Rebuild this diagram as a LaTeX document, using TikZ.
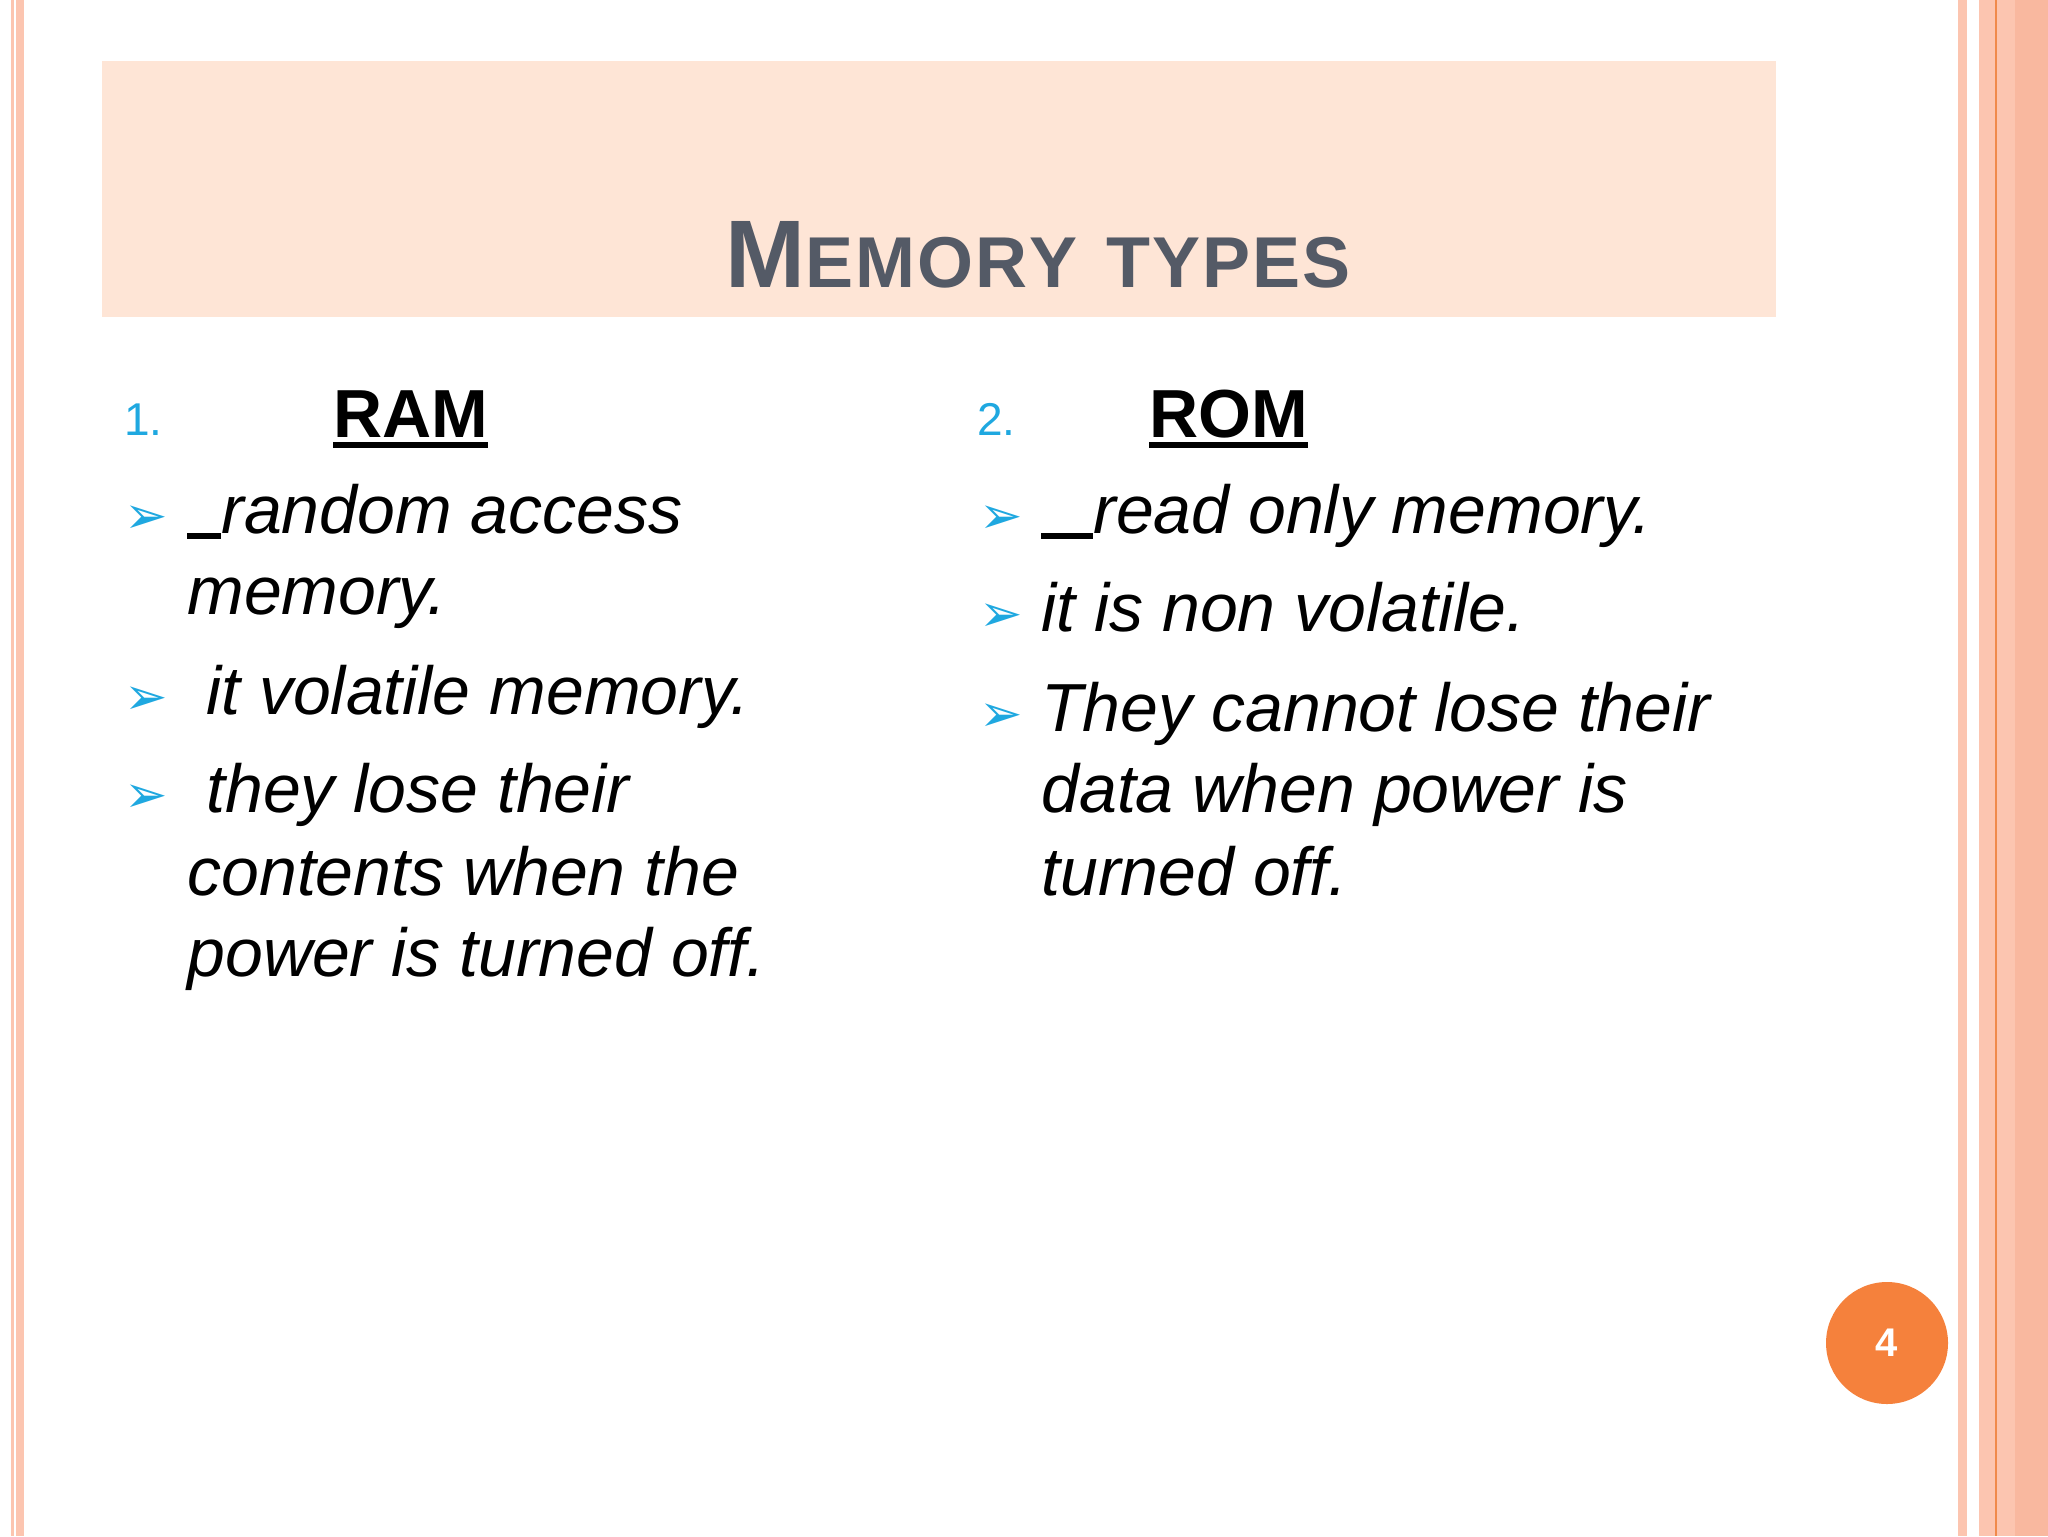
\documentclass[tikz,border=0pt]{standalone}
\usepackage{fontspec}
\setmainfont{Liberation Sans}
\newfontfamily\dejavu{DejaVu Sans}
\definecolor{hdr}{HTML}{FEE5D6}
\definecolor{salmon}{HTML}{FCC5B0}
\definecolor{salmonD}{HTML}{F9B89F}
\definecolor{orangeL}{HTML}{F08A4B}
\definecolor{titlec}{HTML}{545A66}
\definecolor{cyanc}{HTML}{1FA8E0}
\definecolor{pgc}{HTML}{F5813C}
\newcommand\myul[1]{\setbox0\hbox{#1}\rlap{\rule[-5.5pt]{\wd0}{2.8pt}}\box0}
\newcommand\myus[1]{\rule[-3pt]{#1}{2.8pt}}
\tikzset{
 body/.style={anchor=base west,inner sep=0pt,font=\fontsize{34}{40}\selectfont\itshape,text=black},
 num/.style={anchor=base west,inner sep=0pt,font=\fontsize{23}{28}\selectfont,text=cyanc},
 head/.style={anchor=base west,inner sep=0pt,font=\fontsize{34}{40}\selectfont\bfseries,text=black},
 bul/.style={anchor=base west,inner sep=0pt,font=\dejavu\fontsize{26}{30}\selectfont,text=cyanc},
}
\begin{document}
\begin{tikzpicture}[x=0.5pt,y=-0.5pt]
\useasboundingbox (0,0) rectangle (2048,1536);
\fill[white] (0,0) rectangle (2048,1536);
% borders
\fill[salmon] (11,0) rectangle (14,1536);
\fill[salmon] (16,0) rectangle (24,1536);
\fill[salmon] (1958,0) rectangle (1967,1536);
\fill[salmon] (1979,0) rectangle (2048,1536);
\fill[salmonD] (2015,0) rectangle (2048,1536);
\fill[orangeL] (1995,0) rectangle (1997,1536);
% header
\fill[hdr] (102,61) rectangle (1776,317);
\node[anchor=base,inner sep=0pt,text=titlec,font=\bfseries] (title) at (1038,287)
 {\fontsize{48}{52}\selectfont M\fontsize{36}{40}\selectfont E\kern1pt M\kern1pt O\kern1pt R\kern1pt Y\hspace{0.4em}T\kern1pt Y\kern1pt P\kern1pt E\kern1pt S};
% left column
\node[num] (n1) at (124,435) {1.};
\node[head] (ram) at (333,437) {\myul{RAM}};
\node[bul] (b1) at (124,533) {➢};
\node[body] (l1) at (187,533) {\myus{17pt}random access};
\node[body] (l1b) at (187,614) {memory.};
\node[bul] (b2) at (124,714) {➢};
\node[body] (l2) at (187,714) {\ it volatile memory.};
\node[bul] (b3) at (124,812) {➢};
\node[body] (l3) at (187,812) {\ they lose their};
\node[body] (l3b) at (187,895) {contents when the};
\node[body] (l3c) at (187,976) {power is turned off.};
% right column
\node[num] (n2) at (977,435) {2.};
\node[head] (rom) at (1149,437) {\myul{ROM}};
\node[bul] (b4) at (979,533) {➢};
\node[body] (r1) at (1041,533) {\myus{26pt}read only memory.};
\node[bul] (b5) at (979,631) {➢};
\node[body] (r2) at (1041,631) {it is non volatile.};
\node[bul] (b6) at (979,731) {➢};
\node[body] (r3) at (1041,731) {They cannot lose their};
\node[body] (r3b) at (1041,812) {data when power is};
\node[body] (r3c) at (1041,895) {turned off.};
% page number
\node[circle,fill=pgc,minimum size=61pt,inner sep=0pt,text=white,font=\bfseries\fontsize{20}{24}\selectfont] (pg) at (1887,1343) {4};
\end{tikzpicture}
\end{document}
